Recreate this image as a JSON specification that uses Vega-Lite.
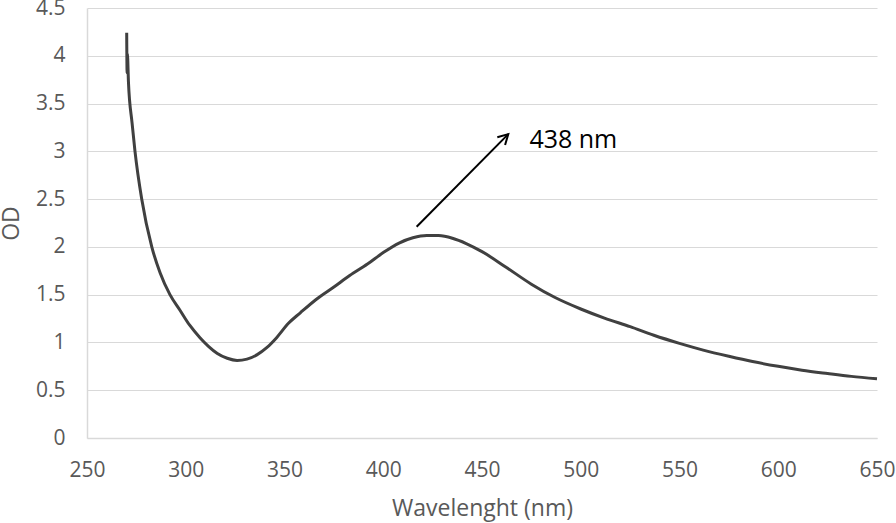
{
  "$schema": "https://vega.github.io/schema/vega-lite/v6.json",
  "autosize": "none",
  "width": 790,
  "height": 430,
  "padding": {"left": 87, "top": 8, "right": 19, "bottom": 85},
  "background": "white",
  "config": {
    "view": {"stroke": null},
    "font": "Open Sans",
    "axis": {
      "labelFont": "Open Sans",
      "titleFont": "Open Sans",
      "labelColor": "#595959",
      "titleColor": "#595959",
      "labelFontSize": 21,
      "titleFontSize": 23,
      "titleFontWeight": "normal",
      "gridColor": "#d9d9d9",
      "gridWidth": 1,
      "domainColor": "#d9d9d9",
      "domainWidth": 1.5,
      "ticks": false
    }
  },
  "layer": [
    {
      "data": {
        "values": [
          {"wl": 270.1, "od": 4.24},
          {"wl": 270.3, "od": 3.82},
          {"wl": 270.45, "od": 4.02},
          {"wl": 271.0, "od": 3.72},
          {"wl": 272.8, "od": 3.3},
          {"wl": 274.3, "od": 3.0},
          {"wl": 277.7, "od": 2.5},
          {"wl": 282.8, "od": 2.0},
          {"wl": 287, "od": 1.73},
          {"wl": 292, "od": 1.5},
          {"wl": 297, "od": 1.34},
          {"wl": 302, "od": 1.18},
          {"wl": 307.2, "od": 1.05},
          {"wl": 311.5, "od": 0.96},
          {"wl": 316, "od": 0.885},
          {"wl": 321, "od": 0.835},
          {"wl": 326, "od": 0.812},
          {"wl": 331, "od": 0.825},
          {"wl": 336, "od": 0.87},
          {"wl": 341, "od": 0.945},
          {"wl": 346, "od": 1.05},
          {"wl": 352, "od": 1.2},
          {"wl": 358, "od": 1.31},
          {"wl": 366, "od": 1.45},
          {"wl": 375, "od": 1.58},
          {"wl": 383, "od": 1.7},
          {"wl": 392, "od": 1.82},
          {"wl": 400, "od": 1.94},
          {"wl": 408, "od": 2.04},
          {"wl": 415, "od": 2.095},
          {"wl": 422, "od": 2.12},
          {"wl": 428, "od": 2.118},
          {"wl": 435, "od": 2.09},
          {"wl": 442, "od": 2.035},
          {"wl": 450, "od": 1.95},
          {"wl": 462, "od": 1.79},
          {"wl": 475, "od": 1.61},
          {"wl": 487, "od": 1.47},
          {"wl": 500, "od": 1.35},
          {"wl": 512, "od": 1.255},
          {"wl": 525, "od": 1.165},
          {"wl": 537, "od": 1.075},
          {"wl": 550, "od": 0.99},
          {"wl": 562, "od": 0.92},
          {"wl": 575, "od": 0.855},
          {"wl": 587, "od": 0.8},
          {"wl": 600, "od": 0.75},
          {"wl": 612, "od": 0.71},
          {"wl": 625, "od": 0.675},
          {"wl": 637, "od": 0.645},
          {"wl": 650, "od": 0.62}
        ]
      },
      "mark": {"type": "line", "color": "#404040", "strokeWidth": 3, "interpolate": "monotone"},
      "encoding": {
        "x": {
          "field": "wl", "type": "quantitative",
          "scale": {"domain": [250, 650], "nice": false, "zero": false},
          "axis": {"values": [250, 300, 350, 400, 450, 500, 550, 600, 650], "grid": false, "title": "Wavelenght (nm)", "labelPadding": 21, "titlePadding": 17, "labelFlush": false}
        },
        "y": {
          "field": "od", "type": "quantitative",
          "scale": {"domain": [0, 4.5], "nice": false},
          "axis": {"values": [0, 0.5, 1, 1.5, 2, 2.5, 3, 3.5, 4, 4.5], "format": "~g", "title": "OD", "labelPadding": 22, "titlePadding": 12}
        }
      }
    },
    {
      "data": {"values": [{"x1": 416.9, "y1": 2.21, "x2": 463.3, "y2": 3.18, "label": "438 nm", "tx": 474, "ty": 3.12}]},
      "layer": [
        {
          "mark": {"type": "rule", "color": "black", "strokeWidth": 2},
          "encoding": {
            "x": {"field": "x1", "type": "quantitative"},
            "y": {"field": "y1", "type": "quantitative"},
            "x2": {"field": "x2"},
            "y2": {"field": "y2"}
          }
        },
        {
          "mark": {"type": "point", "shape": "M -0.55 1 L 0 0 L 0.55 1", "filled": false, "stroke": "black", "strokeWidth": 2, "size": 400, "angle": 45, "opacity": 1},
          "encoding": {
            "x": {"field": "x2", "type": "quantitative"},
            "y": {"field": "y2", "type": "quantitative"}
          }
        },
        {
          "mark": {"type": "text", "align": "left", "baseline": "middle", "fontSize": 25, "font": "Open Sans", "color": "black"},
          "encoding": {
            "x": {"field": "tx", "type": "quantitative"},
            "y": {"field": "ty", "type": "quantitative"},
            "text": {"field": "label"}
          }
        }
      ]
    }
  ]
}
